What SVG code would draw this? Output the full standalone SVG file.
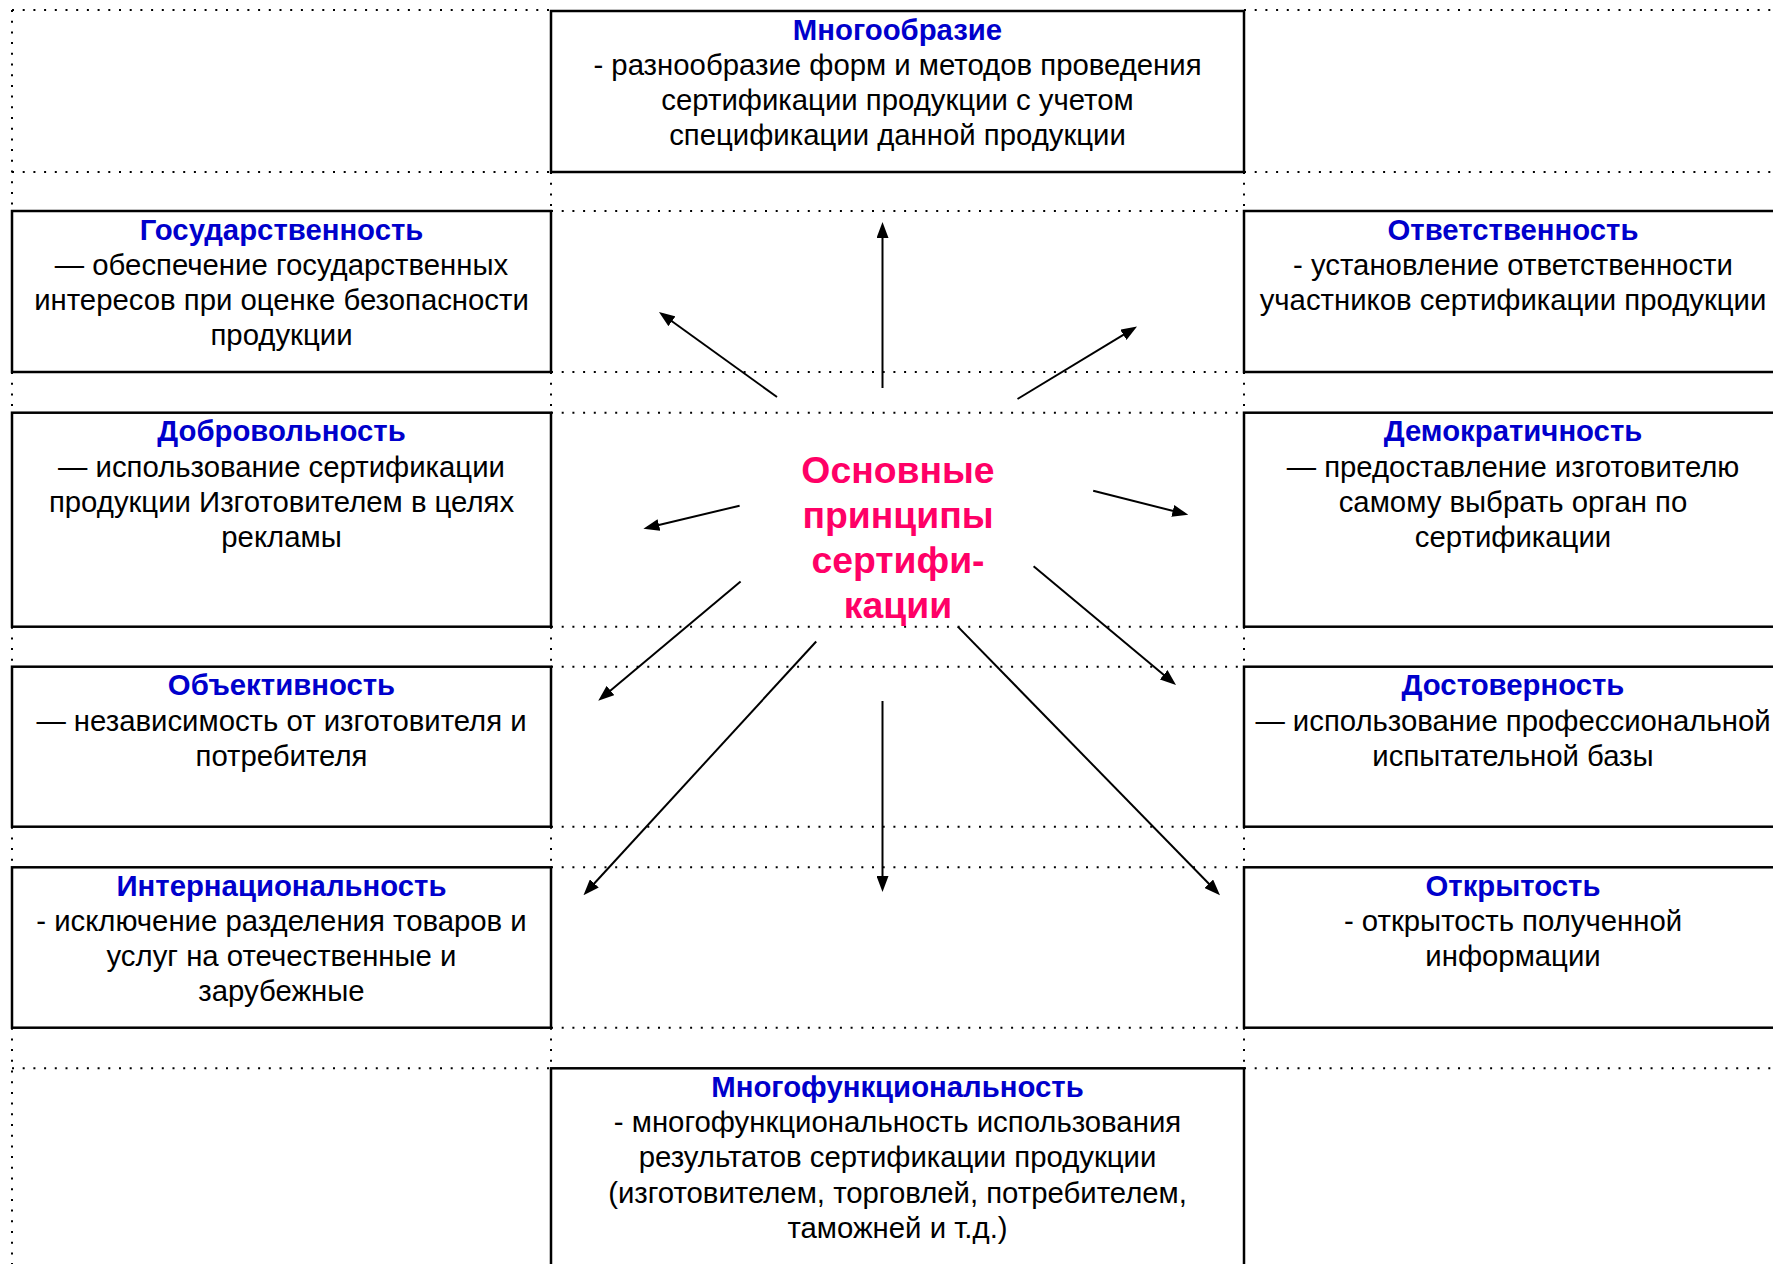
<svg xmlns="http://www.w3.org/2000/svg" width="1773" height="1264" viewBox="0 0 1773 1264">
<style>
.box{fill:#fff;stroke:#000;stroke-width:2.5}
.dot{fill:none;stroke:#000;stroke-width:2;stroke-dasharray:2 8.7}
.t{font-family:"Liberation Sans",Arial,sans-serif;font-size:29.33px;text-anchor:middle;fill:#000}
.h{font-weight:bold;fill:#0000CC}
.c{font-family:"Liberation Sans",Arial,sans-serif;font-size:37.33px;font-weight:bold;text-anchor:middle;fill:#FF0066}
.ar{stroke:#000;stroke-width:2;fill:none;marker-end:url(#ah)}
</style>
<defs>
<marker id="ah" markerUnits="userSpaceOnUse" markerWidth="16" markerHeight="12" refX="12" refY="6" orient="auto">
<path d="M0,0 L16,6 L0,12 z" fill="#000"/>
</marker>
</defs>
<rect width="1773" height="1264" fill="#fff"/>
<g id="grid">
<path class="dot" d="M12,10 H551 M1244,10 H1773 M12,172 H551 M1244,172 H1773 M551,211 H1244 M551,372 H1244 M551,412.7 H1244 M551,626.7 H1244 M551,666.7 H1244 M551,826.7 H1244 M551,867.3 H1244 M551,1027.7 H1244 M12,1068.3 H551 M1244,1068.3 H1773"/>
<path class="dot" d="M12,10 V211 M12,372 V412.7 M12,626.7 V666.7 M12,826.7 V867.3 M12,1027.7 V1264 M551,172 V211 M551,372 V412.7 M551,626.7 V666.7 M551,826.7 V867.3 M551,1027.7 V1068.3 M1244,172 V211 M1244,372 V412.7 M1244,626.7 V666.7 M1244,826.7 V867.3 M1244,1027.7 V1068.3"/>
</g>
<g id="n-mnogoobrazie">
<rect class="box" x="551" y="11" width="693" height="161"/>
<text class="t h" x="897.5" y="39.5">Многообразие</text>
<text class="t" x="897.5" y="74.8">- разнообразие форм и методов проведения</text>
<text class="t" x="897.5" y="110.1">сертификации продукции с учетом</text>
<text class="t" x="897.5" y="145.4">спецификации данной продукции</text>
</g>
<g id="n-gosudarstvennost">
<rect class="box" x="12" y="211" width="539" height="161"/>
<text class="t h" x="281.5" y="239.5">Государственность</text>
<text class="t" x="281.5" y="274.8">— обеспечение государственных</text>
<text class="t" x="281.5" y="310.1">интересов при оценке безопасности</text>
<text class="t" x="281.5" y="345.4">продукции</text>
</g>
<g id="n-otvetstvennost">
<rect class="box" x="1244" y="211" width="538" height="161"/>
<text class="t h" x="1513" y="239.5">Ответственность</text>
<text class="t" x="1513" y="274.8">- установление ответственности</text>
<text class="t" x="1513" y="310.1">участников сертификации продукции</text>
</g>
<g id="n-dobrovolnost">
<rect class="box" x="12" y="412.7" width="539" height="214"/>
<text class="t h" x="281.5" y="441.2">Добровольность</text>
<text class="t" x="281.5" y="476.5">— использование сертификации</text>
<text class="t" x="281.5" y="511.8">продукции Изготовителем в целях</text>
<text class="t" x="281.5" y="547.1">рекламы</text>
</g>
<g id="n-demokratichnost">
<rect class="box" x="1244" y="412.7" width="538" height="214"/>
<text class="t h" x="1513" y="441.2">Демократичность</text>
<text class="t" x="1513" y="476.5">— предоставление изготовителю</text>
<text class="t" x="1513" y="511.8">самому выбрать орган по</text>
<text class="t" x="1513" y="547.1">сертификации</text>
</g>
<g id="n-obektivnost">
<rect class="box" x="12" y="666.7" width="539" height="160"/>
<text class="t h" x="281.5" y="695.2">Объективность</text>
<text class="t" x="281.5" y="730.5">— независимость от изготовителя и</text>
<text class="t" x="281.5" y="765.8">потребителя</text>
</g>
<g id="n-dostovernost">
<rect class="box" x="1244" y="666.7" width="538" height="160"/>
<text class="t h" x="1513" y="695.2">Достоверность</text>
<text class="t" x="1513" y="730.5">— использование профессиональной</text>
<text class="t" x="1513" y="765.8">испытательной базы</text>
</g>
<g id="n-internacionalnost">
<rect class="box" x="12" y="867.3" width="539" height="160.4"/>
<text class="t h" x="281.5" y="895.5">Интернациональность</text>
<text class="t" x="281.5" y="930.6">- исключение разделения товаров и</text>
<text class="t" x="281.5" y="965.8">услуг на отечественные и</text>
<text class="t" x="281.5" y="1001">зарубежные</text>
</g>
<g id="n-otkrytost">
<rect class="box" x="1244" y="867.3" width="538" height="160.4"/>
<text class="t h" x="1513" y="895.5">Открытость</text>
<text class="t" x="1513" y="930.6">- открытость полученной</text>
<text class="t" x="1513" y="965.8">информации</text>
</g>
<g id="n-mnogofunkcionalnost">
<rect class="box" x="551" y="1068.3" width="693" height="220"/>
<text class="t h" x="897.5" y="1096.8">Многофункциональность</text>
<text class="t" x="897.5" y="1132.1">- многофункциональность использования</text>
<text class="t" x="897.5" y="1167.4">результатов сертификации продукции</text>
<text class="t" x="897.5" y="1202.7">(изготовителем, торговлей, потребителем,</text>
<text class="t" x="897.5" y="1238">таможней и т.д.)</text>
</g>
<g id="n-center">
<text class="c" x="898" y="483">Основные</text>
<text class="c" x="898" y="528">принципы</text>
<text class="c" x="898" y="573">сертифи-</text>
<text class="c" x="898" y="618">кации</text>
</g>
<g id="connectors">
<line class="ar" x1="882.5" y1="388" x2="882.5" y2="226"/>
<line class="ar" x1="777" y1="397" x2="662.2" y2="314.3"/>
<line class="ar" x1="1017.5" y1="399" x2="1133.6" y2="328.6"/>
<line class="ar" x1="739.6" y1="505.7" x2="647.3" y2="527.8"/>
<line class="ar" x1="1093.2" y1="490.7" x2="1184.4" y2="513.8"/>
<line class="ar" x1="740.6" y1="581.5" x2="601.3" y2="698.2"/>
<line class="ar" x1="1033.6" y1="566.3" x2="1172.9" y2="682.4"/>
<line class="ar" x1="816.2" y1="641.5" x2="586.2" y2="892.3"/>
<line class="ar" x1="882.5" y1="701" x2="882.5" y2="888"/>
<line class="ar" x1="957.8" y1="626.6" x2="1217.2" y2="892.3"/>
</g>
</svg>
